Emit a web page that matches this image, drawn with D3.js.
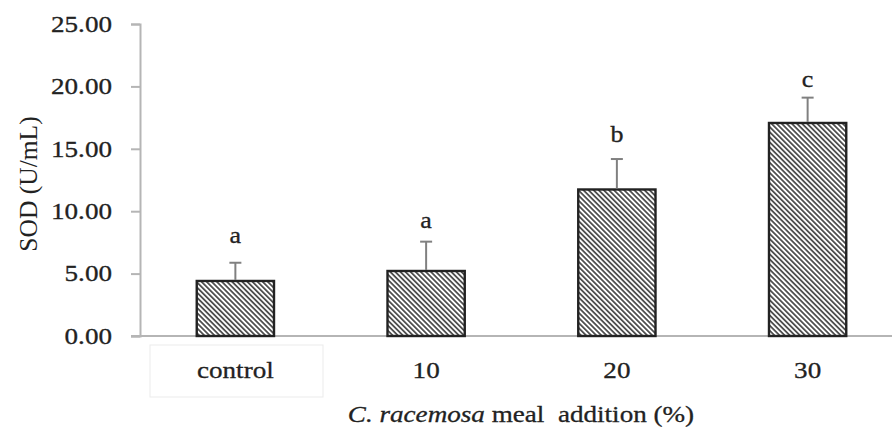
<!DOCTYPE html>
<html>
<head>
<meta charset="utf-8">
<script src="https://cdn.jsdelivr.net/npm/d3@7"></script>
<style>
  body { margin: 0; background: #fff; font-family: "Liberation Serif", serif; }
  svg { display: block; }
  .preload { position: absolute; left: 0; top: 0; opacity: 0; font-family: "Liberation Serif"; }
</style>
</head>
<body>
<div class="preload">control <i>racemosa</i></div>
<svg id="chart" width="892" height="428" font-family="Liberation Serif"></svg>
<script>
// data
const groups = ["control", "10", "20", "30"];
const sodMean = [4.41, 5.21, 11.74, 17.07];
const sodSd = [1.46, 2.35, 2.44, 2.03];
const letters = ["a", "a", "b", "c"];
const letterAt = [7.48, 8.68, 15.57, 19.93]; // letter baselines, in SOD units
const yTicks = [0, 5, 10, 15, 20, 25];

const serif = "Liberation Serif";
const sx = 1.13; // the figure's type is a little wide

const svg = d3.select("#chart");

const x = d3.scaleBand()
  .domain(groups)
  .range([140, 903])
  .paddingInner(0.595)
  .paddingOuter(0.2975);

const y = d3.scaleLinear()
  .domain([0, 25])
  .range([336, 24]);

// hatch pattern
const defs = svg.append("defs");
const pat = defs.append("pattern")
  .attr("id", "hatch")
  .attr("patternUnits", "userSpaceOnUse")
  .attr("width", 3.6)
  .attr("height", 3.6)
  .attr("patternTransform", "rotate(-45)");
pat.append("rect").attr("width", 3.6).attr("height", 3.6).attr("fill", "#fff");
pat.append("line")
  .attr("x1", 0.9).attr("y1", 0).attr("x2", 0.9).attr("y2", 3.6)
  .attr("stroke", "#3a3a3a").attr("stroke-width", 1.6);

// y axis
const yAxis = svg.append("g")
  .attr("transform", "translate(140,0)")
  .call(d3.axisLeft(y).tickValues(yTicks).tickSize(9).tickFormat(d3.format(".2f")));
yAxis.attr("font-family", serif);
yAxis.select(".domain").attr("stroke", "#b5b5b5").attr("stroke-width", 2);
yAxis.selectAll(".tick line").attr("stroke", "#b5b5b5").attr("stroke-width", 2);
yAxis.selectAll(".tick text")
  .attr("x", -28 / sx)
  .attr("dy", "0.3em")
  .attr("transform", `scale(${sx},1)`)
  .attr("font-size", 24)
  .style("font-family", serif)
  .attr("fill", "#222")
  .attr("stroke", "#222").attr("stroke-width", 0.3);

// x axis baseline
svg.append("line")
  .attr("x1", 131).attr("x2", 892)
  .attr("y1", y(0)).attr("y2", y(0))
  .attr("stroke", "#b5b5b5").attr("stroke-width", 2);

// bars
svg.selectAll("rect.bar")
  .data(groups)
  .enter().append("rect")
  .attr("class", "bar")
  .attr("x", d => x(d))
  .attr("y", (d, i) => y(sodMean[i]))
  .attr("width", x.bandwidth())
  .attr("height", (d, i) => y(0) - y(sodMean[i]))
  .attr("fill", "url(#hatch)")
  .attr("stroke", "#222")
  .attr("stroke-width", 2.4);

// error bars (upper only)
const err = svg.selectAll("g.err")
  .data(groups)
  .enter().append("g")
  .attr("class", "err");
err.append("line")
  .attr("x1", d => x(d) + x.bandwidth() / 2)
  .attr("x2", d => x(d) + x.bandwidth() / 2)
  .attr("y1", (d, i) => y(sodMean[i]) - 1)
  .attr("y2", (d, i) => y(sodMean[i] + sodSd[i]))
  .attr("stroke", "#808080").attr("stroke-width", 2);
err.append("line")
  .attr("x1", d => x(d) + x.bandwidth() / 2 - 6)
  .attr("x2", d => x(d) + x.bandwidth() / 2 + 6)
  .attr("y1", (d, i) => y(sodMean[i] + sodSd[i]))
  .attr("y2", (d, i) => y(sodMean[i] + sodSd[i]))
  .attr("stroke", "#808080").attr("stroke-width", 2);

// wide text helper: placed by transform and stretched a bit sideways
function wideText(sel, size) {
  return sel.attr("x", 0).attr("y", 0)
    .attr("text-anchor", "middle")
    .attr("font-size", size)
    .style("font-family", serif)
    .attr("fill", "#222")
    .attr("stroke", "#222").attr("stroke-width", 0.3);
}

// significance letters
wideText(svg.selectAll("text.letter")
  .data(groups)
  .enter().append("text")
  .attr("class", "letter")
  .attr("transform", (d, i) => `translate(${x(d) + x.bandwidth() / 2},${y(letterAt[i])}) scale(${sx},1)`), 23)
  .text((d, i) => letters[i]);

// faint box around first category label
svg.append("rect")
  .attr("x", 150).attr("y", 345)
  .attr("width", 173).attr("height", 52)
  .attr("fill", "none")
  .attr("stroke", "#ebebeb").attr("stroke-width", 1);

// category labels
wideText(svg.selectAll("text.cat")
  .data(groups)
  .enter().append("text")
  .attr("class", "cat")
  .attr("transform", d => `translate(${x(d) + x.bandwidth() / 2},378) scale(${sx},1)`), 24)
  .text(d => d);

// axis titles
const xt = wideText(svg.append("text")
  .attr("transform", `translate(521,422) scale(${sx},1)`), 24);
xt.append("tspan").attr("font-style", "italic").text("C. racemosa");
xt.append("tspan").attr("xml:space", "preserve").text(" meal  addition (%)");

svg.append("text")
  .attr("transform", "translate(37,184) rotate(-90)")
  .attr("text-anchor", "middle")
  .attr("font-size", 25.5)
  .style("font-family", serif)
  .attr("fill", "#222")
  .text("SOD (U/mL)");
</script>
</body>
</html>
